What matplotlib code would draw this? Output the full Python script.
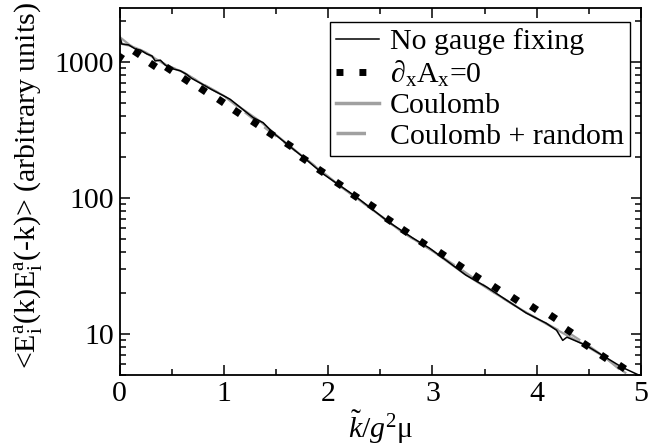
import matplotlib

matplotlib.use("Agg")
import matplotlib.pyplot as plt  # noqa: E402
from matplotlib.lines import Line2D  # noqa: E402
from matplotlib.markers import MarkerStyle  # noqa: E402
from matplotlib.ticker import FixedFormatter, FixedLocator, LogLocator, NullFormatter  # noqa: E402
from matplotlib.transforms import Affine2D  # noqa: E402

plt.rcParams["font.family"] = ["Liberation Serif", "DejaVu Serif"]
plt.rcParams["mathtext.fontset"] = "custom"
plt.rcParams["mathtext.rm"] = "Liberation Serif"
plt.rcParams["mathtext.it"] = "Liberation Serif:italic"
plt.rcParams["mathtext.default"] = "regular"

FS = 21.5

# No gauge fixing
x_ngf = [0.00, 0.02, 0.085, 0.15, 0.20, 0.26, 0.31, 0.34, 0.39, 0.435, 0.48, 0.58,
         0.64, 0.69, 0.79, 0.88, 0.98, 1.06, 1.18, 1.28, 1.376, 1.47, 1.63, 1.79,
         1.95, 2.11, 2.27, 2.43, 2.59, 2.81, 2.97, 3.13, 3.32, 3.52, 3.71, 3.90,
         4.09, 4.19, 4.25, 4.29, 4.47, 4.66, 4.82, 4.98]
y_ngf = [1560, 1360, 1340, 1250, 1225, 1150, 1110, 1020, 1035, 955, 905, 865,
         815, 760, 690, 630, 575, 533, 450, 391, 359, 303, 241, 192,
         151, 124, 102, 82, 66, 51, 43, 35, 27.2, 22.2, 17.8, 14.3,
         12.05, 10.7, 9.0, 9.5, 8.3, 6.77, 5.7, 5.0]

# d_x A_x = 0
x_dx = [0.0, 0.165, 0.32, 0.47, 0.64, 0.80, 0.97, 1.13, 1.30, 1.45, 1.62, 1.77,
        1.93, 2.10, 2.26, 2.42, 2.58, 2.74, 2.91, 3.09, 3.26, 3.43, 3.61, 3.79,
        3.97, 4.16, 4.31, 4.47, 4.65, 4.82]
y_dx = [1083, 1160, 955, 888, 736, 625, 518, 433, 359, 294, 245, 195,
        158, 128, 103, 87, 69.3, 57.5, 47, 38.9, 31.8, 26.3, 21.8, 18.1,
        15.5, 13.3, 10.5, 8.3, 6.76, 5.7]

# Coulomb
x_coul = [0.0, 0.02, 0.1, 0.2, 0.3, 0.45, 0.6, 0.8, 1.0, 1.2, 1.35, 1.5, 1.8, 2.1,
          2.4, 2.7, 3.0, 3.3, 3.6, 3.9, 4.2, 4.45, 4.65, 4.85]
y_coul = [1540, 1360, 1320, 1230, 1110, 945, 850, 685, 565, 440, 366, 292, 190, 125,
          85, 57, 41, 28, 20, 14.4, 10.7, 8.4, 6.8, 5.2]

# Coulomb + random
x_cr = [0.0, 0.1, 0.25, 0.45, 0.6, 0.8, 1.0, 1.3, 1.45, 1.8, 2.1, 2.4, 2.7, 3.0,
        3.26, 3.6, 3.9, 4.2, 4.31, 4.5, 4.65, 4.82, 4.9]
y_cr = [1530, 1330, 1180, 950, 850, 690, 565, 372, 305, 191, 125, 85, 57, 41,
        30.5, 20, 14.4, 10.8, 10.2, 8.2, 6.8, 5.3, 4.8]

GRAY = "#a0a0a0"

fig = plt.figure(figsize=(6.54, 4.46), dpi=100)
ax = fig.add_axes([0.183, 0.159, 0.797, 0.823])

ax.plot(x_coul, y_coul, color=GRAY, lw=1.6)
ax.plot(x_cr, y_cr, color=GRAY, lw=1.6, linestyle=(0, (7, 4)))
ax.plot(x_ngf, y_ngf, color="black", lw=1.1)
sq = MarkerStyle("s", transform=Affine2D().rotate_deg(-35))
ax.plot(x_dx, y_dx, linestyle="none", marker=sq, ms=5.0, mew=0, color="black")

ax.set_yscale("log")
ax.set_xlim(0, 5)
ax.set_ylim(5, 2500)
ax.xaxis.set_major_locator(FixedLocator([0, 1, 2, 3, 4, 5]))
ax.xaxis.set_minor_locator(FixedLocator([0.5, 1.5, 2.5, 3.5, 4.5]))
ax.yaxis.set_major_locator(FixedLocator([10, 100, 1000]))
ax.yaxis.set_major_formatter(FixedFormatter(["10", "100", "1000"]))
ax.yaxis.set_minor_locator(LogLocator(base=10, subs=range(2, 10)))
ax.yaxis.set_minor_formatter(NullFormatter())
ax.tick_params(which="both", direction="in", top=True, right=True, labelsize=FS, width=1.1)
ax.tick_params(which="major", length=7, pad=4)
ax.tick_params(which="minor", length=4)
for s in ax.spines.values():
    s.set_linewidth(1.3)

ax.set_xlabel(r"$\mathit{\tilde{k}/g}^{2}\mu$", fontsize=FS)
ax.xaxis.set_label_coords(0.5, -0.092)
ax.set_ylabel(r"<$E^{a}_{i}$(k)$E^{a}_{i}$(-k)> (arbitrary units)", fontsize=21.5)
ax.yaxis.set_label_coords(-0.145, 0.515)

handles = [
    Line2D([], [], color="black", lw=1.1),
    Line2D([], [], color="black", lw=5.0, linestyle=(0, (1, 2.3))),
    Line2D([], [], color=GRAY, lw=2.5),
    Line2D([], [], color=GRAY, lw=2.5, linestyle=(0, (8.5, 4.5))),
]
labels = ["No gauge fixing", r"$\partial_{x}A_{x}$=0", "Coulomb", "Coulomb + random"]
leg = ax.legend(handles, labels, loc="upper right", bbox_to_anchor=(1 - 11 / 521.5, 1 - 14 / 367),
                borderaxespad=0, fontsize=21.5, handlelength=1.45, handletextpad=0.35,
                borderpad=0.2, labelspacing=0.12, fancybox=False, framealpha=1)
leg.get_frame().set_edgecolor("black")
leg.get_frame().set_linewidth(1.0)

fig.savefig("out.png", dpi=100)
